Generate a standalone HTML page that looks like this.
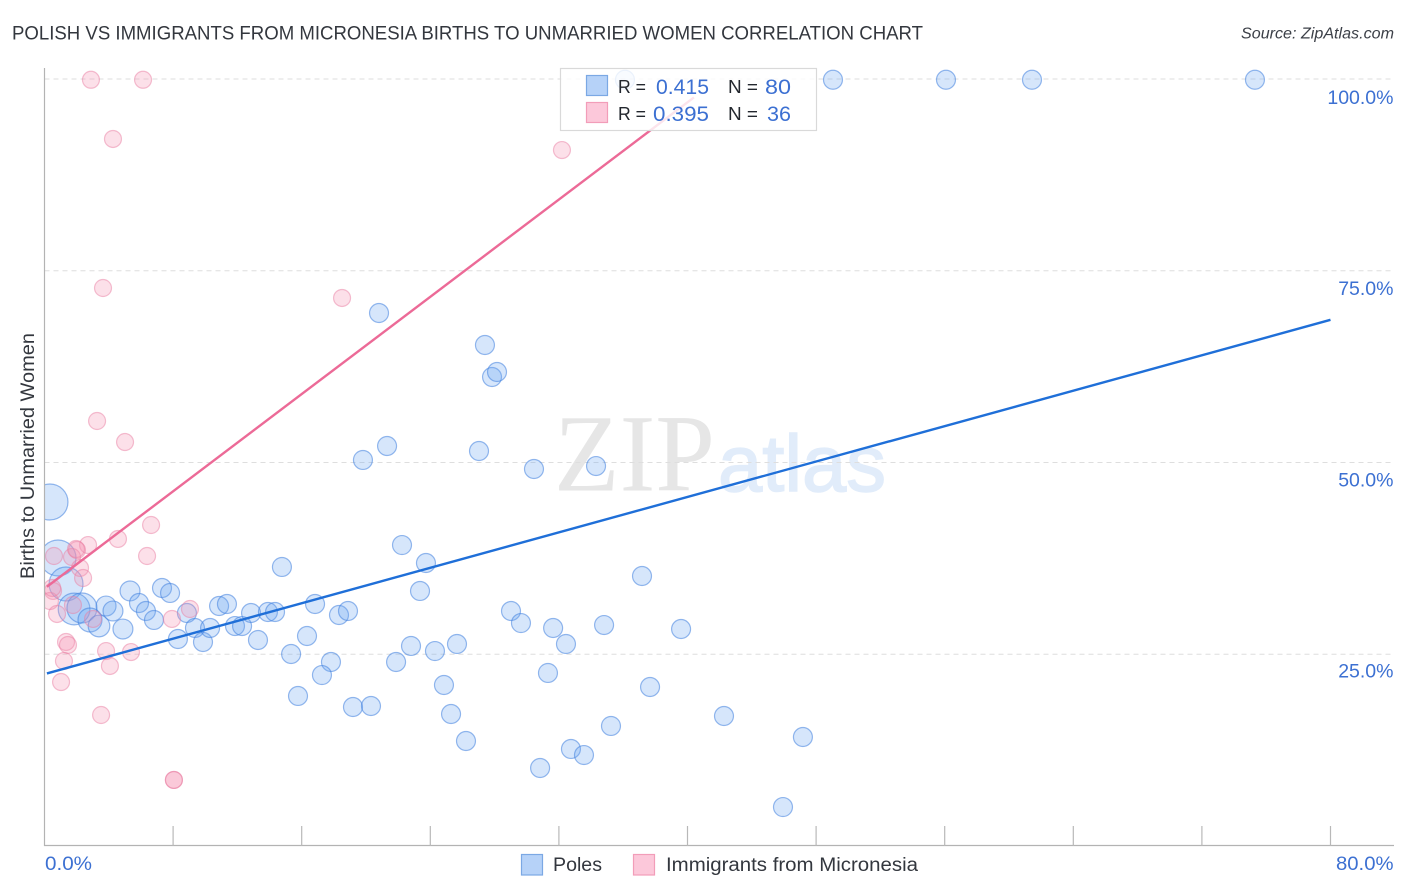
<!DOCTYPE html>
<html lang="en">
<head>
<meta charset="utf-8">
<title>Polish vs Immigrants from Micronesia Births to Unmarried Women Correlation Chart</title>
<style>
html,body{margin:0;padding:0;background:#fff;width:1406px;height:892px;overflow:hidden}
svg{display:block;font-family:"Liberation Sans",sans-serif}
</style>
</head>
<body>
<svg id="chart" width="1406" height="892" viewBox="0 0 1406 892" xmlns="http://www.w3.org/2000/svg">
  <defs>
    <clipPath id="plot-clip"><rect x="44.5" y="60" width="1349" height="786"/></clipPath>
  </defs>
  <text x="12" y="39.5" font-size="19.5" fill="#33373e" textLength="911" lengthAdjust="spacingAndGlyphs">POLISH VS IMMIGRANTS FROM MICRONESIA BIRTHS TO UNMARRIED WOMEN CORRELATION CHART</text>
  <text x="1241" y="38.5" font-size="15.5" font-style="italic" fill="#3c4048" textLength="153" lengthAdjust="spacingAndGlyphs">Source: ZipAtlas.com</text>

  <g>
    <text x="554" y="490.5" font-family="'Liberation Serif',serif" font-size="110" fill="#e6e6e6" textLength="161" lengthAdjust="spacingAndGlyphs">ZIP</text>
    <text x="718" y="491" font-family="'Liberation Sans',sans-serif" font-size="80" fill="#e1ecfa" stroke="#e1ecfa" stroke-width="1.5" textLength="168" lengthAdjust="spacingAndGlyphs">atlas</text>
  </g>

  <g id="grid"></g>
  <g id="points" clip-path="url(#plot-clip)"></g>
  <g id="trends"></g>

  <g id="axes">
    <line x1="44.5" y1="68" x2="44.5" y2="846" stroke="#b3b3b3" stroke-width="1.2"/>
    <line x1="44" y1="845.5" x2="1394" y2="845.5" stroke="#b3b3b3" stroke-width="1.2"/>
  </g>
  <g id="tick-labels"></g>

  <text transform="translate(34,456) rotate(-90)" font-size="19" fill="#33373e" text-anchor="middle" textLength="246" lengthAdjust="spacingAndGlyphs">Births to Unmarried Women</text>

  <g>
    <rect x="560.5" y="68.5" width="256" height="62" fill="#ffffff" fill-opacity="0.82" stroke="#d9d9d9" stroke-width="1.2"/>
    <rect x="586.5" y="75.5" width="21" height="20" fill="#b6d2f8" stroke="#7ba8e4" stroke-width="1.2"/>
    <rect x="586.5" y="102.5" width="21" height="20" fill="#fcc8da" stroke="#f29db9" stroke-width="1.2"/>
    <text x="618" y="93" font-size="18.5" fill="#23272e" textLength="28" lengthAdjust="spacingAndGlyphs">R =</text>
    <text x="656" y="94" font-size="21" fill="#3c70d2" textLength="53" lengthAdjust="spacingAndGlyphs">0.415</text>
    <text x="728" y="93" font-size="18.5" fill="#23272e" textLength="30" lengthAdjust="spacingAndGlyphs">N =</text>
    <text x="765" y="94" font-size="21" fill="#3c70d2" textLength="26" lengthAdjust="spacingAndGlyphs">80</text>
    <text x="618" y="120" font-size="18.5" fill="#23272e" textLength="28" lengthAdjust="spacingAndGlyphs">R =</text>
    <text x="653" y="121" font-size="21" fill="#3c70d2" textLength="56" lengthAdjust="spacingAndGlyphs">0.395</text>
    <text x="728" y="120" font-size="18.5" fill="#23272e" textLength="30" lengthAdjust="spacingAndGlyphs">N =</text>
    <text x="767" y="121" font-size="21" fill="#3c70d2" textLength="24" lengthAdjust="spacingAndGlyphs">36</text>
  </g>

  <g>
    <rect x="521.5" y="854.5" width="21" height="20.5" fill="#b6d2f8" stroke="#7ba8e4" stroke-width="1.2"/>
    <text x="553" y="871" font-size="19" fill="#33373e" textLength="49" lengthAdjust="spacingAndGlyphs">Poles</text>
    <rect x="633.5" y="854.5" width="21" height="20.5" fill="#fcc8da" stroke="#f29db9" stroke-width="1.2"/>
    <text x="666" y="871" font-size="19" fill="#33373e" textLength="252" lengthAdjust="spacingAndGlyphs">Immigrants from Micronesia</text>
  </g>
</svg>

<script>
// --- chart data ---
const xGridTicks = [0, 8, 16, 24, 32, 40, 48, 56, 64, 72, 80];
const yGridTicks = [25, 50, 75, 100];
const yTickLabels = ['25.0%', '50.0%', '75.0%', '100.0%'];
const xMinLabel = '0.0%';
const xMaxLabel = '80.0%';

const polesX = [0.34,0.84,1.34,1.84,2.33,2.83,3.39,3.83,4.26,4.88,5.32,5.88,6.31,6.81,7.31,7.81,8.30,8.86,9.36,9.86,10.30,10.86,11.35,11.85,12.29,12.85,13.28,13.90,14.34,14.77,15.34,15.77,16.83,16.33,17.82,17.26,18.32,18.88,19.19,20.31,21.87,22.80,23.36,23.73,22.24,24.29,24.85,25.29,26.22,25.66,29.02,29.64,31.64,32.44,31.32,30.83,32.75,33.56,35.24,34.81,37.17,37.67,39.60,42.27,45.94,47.18,20.81,27.40,27.84,28.15,27.03,30.45,34.31,21.31,19.81,36.11,49.05,56.08,61.43,75.30];
const polesY = [44.85,37.55,34.16,30.90,31.03,29.47,28.68,31.29,30.64,28.29,33.25,31.68,30.64,29.47,33.64,32.99,26.99,30.38,28.42,26.60,28.42,31.29,31.55,28.68,28.68,30.38,26.86,30.51,30.51,36.38,25.03,19.56,31.55,27.38,23.99,22.29,30.12,30.64,18.12,18.25,23.99,26.08,33.25,36.90,39.24,25.42,20.99,17.21,13.69,26.34,30.64,29.07,28.42,26.34,22.56,10.17,12.65,11.86,15.65,28.81,35.20,20.73,28.29,16.95,5.08,14.21,69.49,65.32,61.15,61.80,51.50,49.15,49.54,52.15,50.33,99.9,99.9,99.9,99.9,99.9];
const polesWeight = [36,36,32,28,25,16,13,11,11,11,11,10,10,10,10,10,10,10,10,10,10,10,10,10,10,10,10,10,10,10,10,10,10,10,10,10,10,10,10,10,10,10,10,10,10,10,10,10,10,10,10,10,10,10,10,10,10,10,10,10,10,10,10,10,10,10,10,10,10,10,10,10,10,10,10,10,10,10,10,10];

const micronesiaX = [2.89,6.13,4.26,32.19,3.64,18.51,3.27,5.01,6.63,4.57,6.38,2.71,2.02,1.71,0.59,2.21,2.40,0.53,0.34,0.78,1.77,3.02,9.05,7.93,1.34,1.46,1.21,3.83,5.38,4.07,1.03,3.52,8.05,8.05,0.48,1.96];
const micronesiaY = [99.9,99.9,92.18,90.74,72.75,71.45,55.41,52.67,41.85,40.03,37.81,39.24,38.59,37.68,37.81,36.25,34.94,33.25,31.94,30.25,31.42,29.60,30.90,29.60,26.60,26.21,24.12,25.42,25.29,23.47,21.38,17.08,8.61,8.61,33.64,38.72];
const micronesiaWeight = [8,8,8,8,8,8,8,8,8,8,8,8,8,8,8,8,8,8,8,8,8,8,8,8,8,8,8,8,8,8,8,8,8,8,8,8];

const polesTrendX = [0.15, 80];
const polesTrendY = [22.5, 68.6];
const micronesiaTrendX = [0.15, 40.4];
const micronesiaTrendY = [33.8, 97.6];

// --- axis functions ---
const SVG_NS = 'http://www.w3.org/2000/svg';
function xScale(v) { return 44.5 + v * (1286 / 80); }
function yScale(v) { return 846 - v * 7.67; }
function yLabelScale(v) { return 104 + (100 - v) * 7.645; }
function rScale(w) { return 3 * Math.sqrt(w); }
function make(tag, attrs) {
  const el = document.createElementNS(SVG_NS, tag);
  for (const k in attrs) el.setAttribute(k, attrs[k]);
  return el;
}

const grid = document.getElementById('grid');
const axes = document.getElementById('axes');
const labels = document.getElementById('tick-labels');
const points = document.getElementById('points');
const trends = document.getElementById('trends');

yGridTicks.forEach(function (t, i) {
  const y = yScale(t);
  const line = make('line', {x1: 44.5, x2: 1394, y1: y, y2: y, stroke: '#dedede', 'stroke-width': 1, 'stroke-dasharray': '5 4'});
  
  
  grid.appendChild(line);
  const label = make('text', {x: 1393.5, y: yLabelScale(t), 'font-size': 19.5, fill: '#3c70d2', 'text-anchor': 'end'});
  label.textContent = yTickLabels[i];
  
  
  labels.appendChild(label);
});

xGridTicks.slice(1).forEach(function (t) {
  const x = xScale(t);
  const tick = make('line', {x1: x, x2: x, y1: 826, y2: 846, stroke: '#b8b8b8', 'stroke-width': 1.2});
  
  
  axes.appendChild(tick);
});

const xMin = make('text', {x: 45, y: 870, 'font-size': 19.5, fill: '#3c70d2', textLength: 47, lengthAdjust: 'spacingAndGlyphs'});
xMin.textContent = xMinLabel;


labels.appendChild(xMin);

const xMax = make('text', {x: 1336, y: 870, 'font-size': 19.5, fill: '#3c70d2', textLength: 57.5, lengthAdjust: 'spacingAndGlyphs'});
xMax.textContent = xMaxLabel;


labels.appendChild(xMax);

polesX.forEach(function (v, i) {
  const c = make('circle', {cx: xScale(v), cy: yScale(polesY[i]), r: rScale(polesWeight[i]), fill: '#6aa5f0', 'fill-opacity': 0.28, stroke: '#3f80de', 'stroke-opacity': 0.55, 'stroke-width': 1.2});
  
  
  points.appendChild(c);
});

micronesiaX.forEach(function (v, i) {
  const c = make('circle', {cx: xScale(v), cy: yScale(micronesiaY[i]), r: rScale(micronesiaWeight[i]), fill: '#f48fb1', 'fill-opacity': 0.28, stroke: '#ea7fa3', 'stroke-opacity': 0.5, 'stroke-width': 1.2});
  
  
  points.appendChild(c);
});

const pinkTrend = make('line', {x1: xScale(micronesiaTrendX[0]), y1: yScale(micronesiaTrendY[0]), x2: xScale(micronesiaTrendX[1]), y2: yScale(micronesiaTrendY[1]), stroke: '#ec6a97', 'stroke-width': 2.4});


trends.appendChild(pinkTrend);

const blueTrend = make('line', {x1: xScale(polesTrendX[0]), y1: yScale(polesTrendY[0]), x2: xScale(polesTrendX[1]), y2: yScale(polesTrendY[1]), stroke: '#1f6fd8', 'stroke-width': 2.4});


trends.appendChild(blueTrend);
</script>
</body>
</html>
